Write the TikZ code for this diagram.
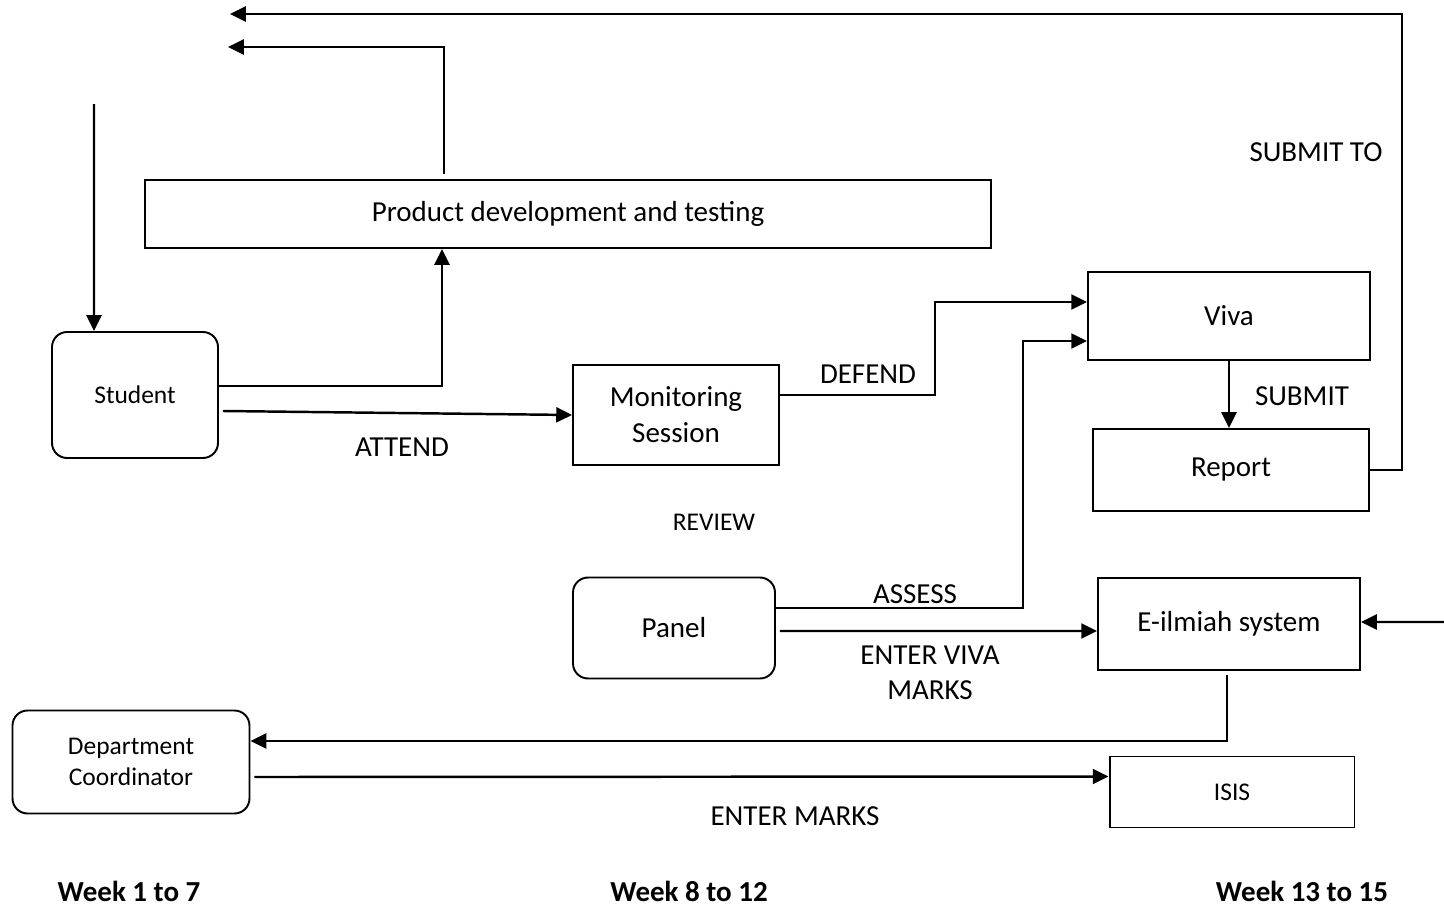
\documentclass[tikz,border=0pt]{standalone}
\usepackage{fontspec}
\setmainfont{Carlito}
\usetikzlibrary{arrows.meta, positioning, calc}

\begin{document}
\begin{tikzpicture}[x=0.02cm, y=-0.02cm,
    box_node/.style={rectangle, draw, line width=1.1pt, align=center, inner sep=0pt, font=\fontsize{16.5}{20.4}\selectfont},
    round_node/.style={box_node, rounded corners=0.3cm, font=\fontsize{14.5}{18}\selectfont},
    flow/.style={line width=1.4pt, -{Triangle[length=9pt,width=8.5pt]}},
    lbl/.style={align=center, font=\fontsize{16.5}{19.8}\selectfont},
    small_lbl/.style={font=\fontsize{14.5}{18}\selectfont},
    week/.style={font=\fontsize{16.5}{20}\selectfont\bfseries},
    ]
    \useasboundingbox (0,0) rectangle (1444,906);

    % Nodes
    \node[box_node, minimum width=16.92cm, minimum height=1.36cm] (product) at (568,214) {Product development and testing};
    \node[round_node, minimum width=3.32cm, minimum height=2.52cm] (student) at (135,395) {Student};
    \node[box_node, minimum width=4.12cm, minimum height=2cm] (monitoring) at (676,415) {Monitoring\\Session};
    \node[box_node, minimum width=5.64cm, minimum height=1.76cm] (viva) at (1229,316) {Viva};
    \node[box_node, minimum width=5.52cm, minimum height=1.64cm] (report) at (1231,470) {Report};
    \node[round_node, minimum width=4.04cm, minimum height=2.02cm, font=\fontsize{16.5}{20}\selectfont] (panel) at (674,628) {Panel};
    \node[box_node, minimum width=5.24cm, minimum height=1.84cm] (eilmiah) at (1229,624) {E-ilmiah system};
    \node[round_node, minimum width=4.74cm, minimum height=2.06cm] (dept) at (131,762) {Department\\Coordinator};
    \node[box_node, minimum width=4.9cm, minimum height=1.42cm, font=\fontsize{14.5}{18}\selectfont] (isis) at (1232,792) {ISIS};

    % Free ends
    \coordinate (top_a) at (230,14);
    \coordinate (top_b) at (228,47);
    \coordinate (stud_in) at (94,104);
    \coordinate (sys_in) at (1444,622);

    % Labels
    \node[lbl] (attend) at (402,447) {ATTEND};
    \node[lbl] (defend) at (868,374) {DEFEND};
    \node[lbl] (submitto) at (1316,152) {SUBMIT TO};
    \node[lbl] (submit) at (1302,396) {SUBMIT};
    \node[small_lbl] (review) at (714,522) {REVIEW};
    \node[lbl] (assess) at (915,594) {ASSESS};
    \node[lbl] (entervm) at (930,673) {ENTER VIVA\\MARKS};
    \node[lbl] (entermarks) at (795,816) {ENTER MARKS};
    \node[week] (w1) at (129,891) {Week 1 to 7};
    \node[week] (w2) at (689,891) {Week 8 to 12};
    \node[week] (w3) at (1302,891) {Week 13 to 15};

    % Arrows
    \draw[flow] (report.east) -- ++(0.64cm,0pt) |- (top_a);
    \draw[flow] ([xshift=-2.48cm, yshift=0.1cm]product.north) |- (top_b);
    \draw[flow] (stud_in) -- ([xshift=-0.82cm]student.north);
    \draw[flow] ([yshift=0.18cm]student.east) -| ([xshift=-2.52cm]product.south);
    \draw[flow] ([yshift=-0.32cm, xshift=0.08cm]student.east) -- (monitoring.west);
    \draw[flow] ([yshift=0.4cm]monitoring.east) -- ++(3.1cm,0pt) |- ([yshift=0.28cm]viva.west);
    \draw[flow] ([yshift=0.4cm]panel.east) -- ++(4.94cm,0pt) |- ([yshift=-0.5cm]viva.west);
    \draw[flow] (viva.south) -- (viva.south |- report.north);
    \draw[flow] ([yshift=-0.06cm, xshift=0.08cm]panel.east) -- ([yshift=-0.14cm]eilmiah.west);
    \draw[flow] (sys_in) -- ([yshift=0.04cm]eilmiah.east);
    \draw[flow] ([xshift=-0.04cm, yshift=-0.08cm]eilmiah.south) |- ([yshift=0.42cm]dept.east);
    \draw[flow] ([yshift=-0.3cm, xshift=0.08cm]dept.east) -- ([yshift=0.31cm]isis.west);
\end{tikzpicture}
\end{document}
